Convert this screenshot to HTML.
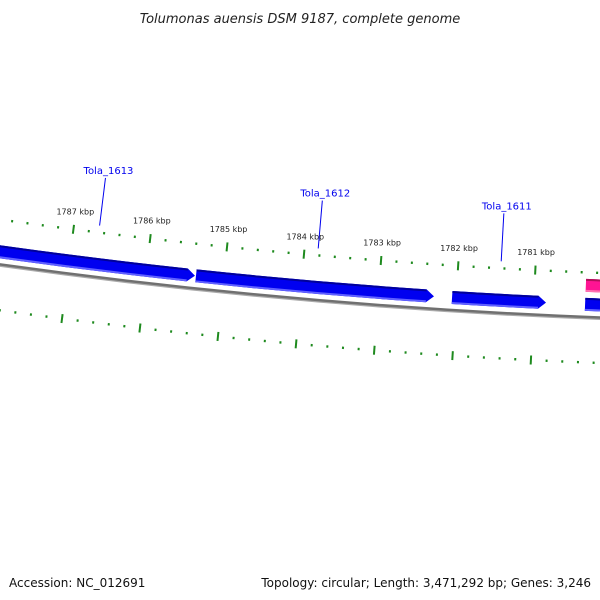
<!DOCTYPE html>
<html><head><meta charset="utf-8"><style>
html,body{margin:0;padding:0;background:#fff;}
svg{display:block;}
text{font-family:"DejaVu Sans","Liberation Sans",sans-serif;}
</style></head><body>
<svg id="map" width="600" height="600" viewBox="0 0 600 600" xmlns="http://www.w3.org/2000/svg">
<text x="300" y="23" text-anchor="middle" font-size="13" font-style="italic" fill="#222">Tolumonas auensis DSM 9187, complete genome</text>
<g id="plot"></g>
<text x="9" y="587" font-size="12" fill="#111">Accession: NC_012691</text>
<text x="591" y="587" text-anchor="end" font-size="12" fill="#111">Topology: circular; Length: 3,471,292 bp; Genes: 3,246</text>
</svg>
<script>
const majorTicksKbp = [1787, 1786, 1785, 1784, 1783, 1782, 1781];
const geneStarts = [1789500, 1785360, 1782053, 1780339];
const geneEnds = [1785373, 1782286, 1780842, 1778800];
const geneNames = ["Tola_1613", "Tola_1612", "Tola_1611", ""];
const geneLabelPos = [1786670, 1783823, 1781447, 0];
const pinkStarts = [1780339];
const pinkEnds = [1778800];

const NS = "http://www.w3.org/2000/svg";
const CX = 828, CY = -5677.7;
const PHI0 = -0.08811, P0 = 1784000, K = 1.2981e-5;
const R_BACK = 6000, R_GENE = 5987, R_PINK = 5968, R_TOP = 5955, R_BOT = 6045, R_LAB = 5940;
function ang(p){ return PHI0 + (P0 - p) * K; }
function pt(p, r){ const a = ang(p); return [CX + r*Math.sin(a), CY + r*Math.cos(a)]; }
const g = document.getElementById('plot');
function el(tag, attrs){ const e = document.createElementNS(NS, tag); for (const k in attrs) e.setAttribute(k, attrs[k]); g.appendChild(e); return e; }
function arcPath(p1, p2, r){
  const a = pt(p1, r), b = pt(p2, r);
  const sweep = p1 > p2 ? 0 : 1;
  return `M${a[0]},${a[1]} A${r},${r} 0 0 ${sweep} ${b[0]},${b[1]}`;
}
let e = el('path', {d: arcPath(1789800, 1778500, R_BACK+1), stroke:'#aaa', 'stroke-width':2, fill:'none'});
 
e = el('path', {d: arcPath(1789800, 1778500, R_BACK-0.5), stroke:'#707070', 'stroke-width':2.5, fill:'none'});
 
for (let p = 1788800; p >= 1779400; p -= 200) {
  const major = p % 1000 === 0;
  const len = major ? 4.5 : 1.2;
  [R_TOP, R_BOT].forEach((r) => {
    const a = pt(p, r - len), b = pt(p, r + len);
    const t = el('line', {x1:a[0], y1:a[1], x2:b[0], y2:b[1], stroke:'#1e8a1e', 'stroke-width': 2});
    
    
  });
}
majorTicksKbp.forEach(k => {
  const q = pt(k*1000, R_LAB);
  const t = el('text', {x:q[0], y:q[1], 'font-size':8, 'text-anchor':'middle', fill:'#222'});
  t.textContent = k + ' kbp';
  
  
});
function feature(s, en, r, fill, dark, light, arrow, name){
  const h = 6.5, head = arrow ? 100 : 0;
  const body = en + head;
  const a1 = pt(s, r-h), a2 = pt(body, r-h), tip = pt(en, r), b2 = pt(body, r+h), b1 = pt(s, r+h);
  const d = `M${a1[0]},${a1[1]} A${r-h},${r-h} 0 0 0 ${a2[0]},${a2[1]} L${tip[0]},${tip[1]} L${b2[0]},${b2[1]} A${r+h},${r+h} 0 0 1 ${b1[0]},${b1[1]} Z`;
  const f = el('path', {d, fill});
  
  
  const t1 = el('path', {d: arcPath(s, body, r-h+1), stroke: dark, 'stroke-width':2, fill:'none'});
  
  
  const t2 = el('path', {d: arcPath(s, body, r+h-1), stroke: light, 'stroke-width':2, fill:'none'});
  
  
}
geneStarts.forEach((s, i) => {
  feature(s, geneEnds[i], R_GENE, '#0000f0', '#00009a', '#6060ff', i < 3, 'gene-' + (geneNames[i] || 'next'));
  if (geneNames[i]) {
    const mid = geneLabelPos[i];
    const a = pt(mid, R_TOP - 7), b = pt(mid, R_TOP - 55);
    const l = el('line', {x1:a[0], y1:a[1], x2:b[0], y2:b[1], stroke:'#0000ee', 'stroke-width':1});
    
    
    const t = el('text', {x:b[0]+3, y:b[1]-4, 'font-size':10, 'text-anchor':'middle', fill:'#0000ee'});
    t.textContent = geneNames[i];
    
    
  }
});
pinkStarts.forEach((s, i) => feature(s, pinkEnds[i], R_PINK, '#ff1493', '#b0105a', '#ff70b0', false, 'rna-feature'));
</script>
</body></html>
